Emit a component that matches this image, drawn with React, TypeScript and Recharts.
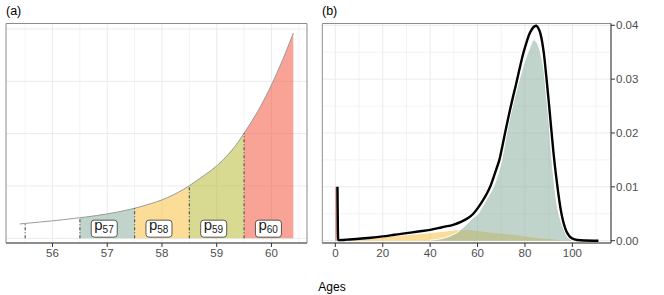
import React from 'react';
import {
  ComposedChart,
  Area,
  Line,
  XAxis,
  YAxis,
  CartesianGrid,
  ReferenceLine,
  ReferenceArea,
  Scatter,
} from 'recharts';

const FONT = '"Liberation Sans", Arial, Helvetica, sans-serif';

// ---------- Panel (a) ----------
const agesA = [55.4, 55.5, 55.6, 55.8, 56.0, 56.2, 56.4, 56.5, 56.6, 56.8, 57.0, 57.2, 57.4, 57.5, 57.6, 57.8, 58.0, 58.2, 58.4, 58.5, 58.6, 58.8, 59.0, 59.2, 59.4, 59.5, 59.6, 59.8, 60.0, 60.2, 60.4];
const curveA = [0.137, 0.142, 0.147, 0.157, 0.167, 0.178, 0.19, 0.197, 0.203, 0.217, 0.233, 0.252, 0.275, 0.287, 0.301, 0.331, 0.367, 0.413, 0.47, 0.503, 0.538, 0.612, 0.692, 0.795, 0.925, 1.004, 1.085, 1.26, 1.465, 1.7, 1.96];
const segStarts = [56.5, 57.5, 58.5, 59.5];
const segEnds = [57.5, 58.5, 59.5, 60.4];
const segLabels = ['57', '58', '59', '60'];
const segLabelX = [57, 58, 59, 60];
const segColors = ['#83A997', '#F7BB31', '#B1B525', '#F3472D'];
const dashX = [55.5, 56.5, 57.5, 58.5, 59.5];
const xTicksA = [56, 57, 58, 59, 60];
const xMinorA = [55.5, 56.5, 57.5, 58.5, 59.5, 60.5];
const yGridA = [0, 0.5, 1, 1.5, 2];
const X_DOMAIN_A: [number, number] = [55.15, 60.65];
const Y_DOMAIN_A: [number, number] = [-0.045, 2.0526];
const LABEL_Y = 0.092;

const curveDataA = agesA.map((x, i) => ({ x, y: curveA[i] }));
const segData = segStarts.map((s, k) =>
  curveDataA.filter((d) => d.x >= s - 1e-9 && d.x <= segEnds[k] + 1e-9)
);
const dashData = dashX.map((x) => ({ x, h: curveA[agesA.indexOf(x)] }));
const labelData = segLabelX.map((x, i) => ({ x, y: LABEL_Y, label: segLabels[i] }));

// ---------- Panel (b) ----------
const infantAge = [0, 0.6];
const infantVal = [0.01, 0.01];

const yellowAge = [0, 5, 10, 15, 20, 25, 30, 35, 40, 45, 50, 53, 56, 60, 65, 70, 75, 80, 85, 90, 95, 100];
const yellowVal = [0, 0.00008, 0.0002, 0.00038, 0.0006, 0.0008, 0.001, 0.0012, 0.0014, 0.0016, 0.0019, 0.002, 0.002, 0.0018, 0.0015, 0.0013, 0.0011, 0.0008, 0.0005, 0.0003, 0.0001, 0];

const greenAge = [40, 45, 48, 50, 52, 54, 56, 58, 60.3, 62, 64, 66.7, 68.5, 70.2, 72.3, 74.4, 76, 78, 80, 82, 83, 83.8, 84.6, 85.5, 86.5, 87.3, 88, 89, 90, 90.5, 91, 92, 93, 94, 95, 96, 97, 98, 99, 100];
const greenVal = [0.0001, 0.0004, 0.0008, 0.0012, 0.0017, 0.0025, 0.0033, 0.0042, 0.005, 0.0063, 0.0078, 0.01, 0.0122, 0.015, 0.02, 0.0243, 0.0272, 0.0305, 0.0335, 0.0358, 0.0369, 0.0373, 0.037, 0.0364, 0.035, 0.0335, 0.0317, 0.0272, 0.0228, 0.02, 0.017, 0.0122, 0.0083, 0.0056, 0.0039, 0.0026, 0.0015, 0.0007, 0.0003, 0];

const totalAge = [0.9, 1.2, 3, 5, 10, 15, 20, 25, 30, 35, 40, 45, 50, 53, 56, 58.2, 60, 62, 64, 65.3, 67, 68, 69.2, 70.4, 71.6, 72.6, 73.7, 75, 76, 77.5, 79.3, 80.5, 82, 83, 84, 84.8, 85.6, 86.5, 87.3, 88, 89, 90, 91, 92, 93, 94, 95, 96, 97, 98, 99, 100, 102, 105, 111];
const totalVal = [0.01, 0.0001, 0.00013, 0.0002, 0.00035, 0.00055, 0.0008, 0.0011, 0.0014, 0.0017, 0.002, 0.0025, 0.003, 0.0035, 0.0042, 0.005, 0.006, 0.0073, 0.0088, 0.01, 0.0121, 0.0134, 0.015, 0.0174, 0.02, 0.0221, 0.0243, 0.0268, 0.0286, 0.0315, 0.0348, 0.0366, 0.0385, 0.0393, 0.0398, 0.0399, 0.0395, 0.0385, 0.0368, 0.0347, 0.0305, 0.026, 0.0212, 0.0165, 0.0125, 0.009, 0.006, 0.0038, 0.0023, 0.0013, 0.0007, 0.0004, 0.00012, 0.00003, 0];

const xTicksB = [0, 20, 40, 60, 80, 100];
const xMinorB = [10, 30, 50, 70, 90, 110];
const yTicksB = [0, 0.01, 0.02, 0.03, 0.04];
const yMinorB = [0.005, 0.015, 0.025, 0.035];
const X_DOMAIN_B: [number, number] = [-5.5, 116.3];
const Y_DOMAIN_B: [number, number] = [-0.00043, 0.04033];

const toXY = (ages: number[], vals: number[]) => ages.map((x, i) => ({ x, v: vals[i] }));
const infantData = toXY(infantAge, infantVal);
const yellowData = toXY(yellowAge, yellowVal);
const greenData = toXY(greenAge, greenVal);
const totalData = toXY(totalAge, totalVal);

const tickStyle = { fill: '#4D4D4D', fontSize: 11.5, fontFamily: FONT };
const GRID = '#EBEBEB';
const BORDER = '#8C8C8C';
const AXIS = '#555555';

const LabelShape = (props: any) => {
  const { cx, cy, payload } = props;
  if (cx == null || cy == null) return null;
  const w = 26;
  const h = 17;
  const left = cx - 3 - w / 2;
  return (
    <g>
      <rect x={left} y={cy - h / 2} width={w} height={h} rx={3} ry={3} fill="#FFFFFF" stroke="#333333" strokeWidth={0.8} />
      <text x={left + 3} y={cy + 1.8} fontFamily={FONT} fill="#1A1A1A">
        <tspan fontSize={15}>p</tspan>
        <tspan fontSize={10} dy={2.8}>{payload.label}</tspan>
      </text>
    </g>
  );
};

const PanelA = () => (
  <ComposedChart width={320} height={270} margin={{ top: 23.5, right: 13, bottom: 7, left: 6 }}>
    <CartesianGrid verticalValues={xMinorA} horizontal={false} stroke={GRID} strokeWidth={0.6} />
    <CartesianGrid verticalValues={xTicksA} horizontalValues={yGridA} stroke={GRID} strokeWidth={1} />
    <XAxis
      type="number"
      dataKey="x"
      domain={X_DOMAIN_A}
      allowDataOverflow
      ticks={xTicksA}
      tickSize={4}
      tickMargin={2}
      height={20}
      axisLine={{ stroke: AXIS }}
      tickLine={{ stroke: '#333333' }}
      tick={tickStyle}
    />
    <YAxis type="number" domain={Y_DOMAIN_A} allowDataOverflow hide />
    {segData.map((d, k) => (
      <Area
        key={'seg' + k}
        data={d}
        dataKey="y"
        type="monotone"
        baseValue={0}
        fill={segColors[k]}
        fillOpacity={0.5}
        stroke="none"
        isAnimationActive={false}
      />
    ))}
    <Line data={curveDataA} dataKey="y" type="monotone" stroke="#9A9A9A" strokeWidth={1} dot={false} isAnimationActive={false} />
    {dashData.map((d) => (
      <ReferenceLine
        key={'dash' + d.x}
        segment={[{ x: d.x, y: 0 }, { x: d.x, y: d.h }]}
        stroke="#4D4D4D"
        strokeWidth={1.1}
        strokeDasharray="3 2 1 2"
        ifOverflow="visible"
      />
    ))}
    <Scatter data={labelData} dataKey="y" shape={LabelShape} isAnimationActive={false} />
    <ReferenceArea
      x1={X_DOMAIN_A[0]}
      x2={X_DOMAIN_A[1]}
      y1={Y_DOMAIN_A[0]}
      y2={Y_DOMAIN_A[1]}
      fill="none"
      fillOpacity={0}
      stroke={BORDER}
      strokeWidth={1}
      ifOverflow="visible"
    />
  </ComposedChart>
);

const PanelB = () => (
  <ComposedChart width={354} height={270} margin={{ top: 23.5, right: 5, bottom: 7, left: 12.3 }}>
    <CartesianGrid verticalValues={xMinorB} horizontalValues={yMinorB} stroke={GRID} strokeWidth={0.6} />
    <CartesianGrid verticalValues={xTicksB} horizontalValues={yTicksB} stroke={GRID} strokeWidth={1} />
    <XAxis
      type="number"
      dataKey="x"
      domain={X_DOMAIN_B}
      allowDataOverflow
      ticks={xTicksB}
      tickSize={4}
      tickMargin={2}
      height={20}
      axisLine={{ stroke: AXIS }}
      tickLine={{ stroke: '#333333' }}
      tick={tickStyle}
    />
    <YAxis
      type="number"
      orientation="right"
      width={48}
      domain={Y_DOMAIN_B}
      allowDataOverflow
      ticks={yTicksB}
      tickFormatter={(v: number) => v.toFixed(2)}
      tickSize={4}
      tickMargin={1}
      axisLine={{ stroke: AXIS }}
      tickLine={{ stroke: '#333333' }}
      tick={tickStyle}
    />
    <Area data={yellowData} dataKey="v" type="monotone" baseValue={0} fill="#F7BB31" fillOpacity={0.5} stroke="none" isAnimationActive={false} />
    <Area data={greenData} dataKey="v" type="monotone" baseValue={0} fill="#83A997" fillOpacity={0.5} stroke="#FFFFFF" strokeWidth={1} isAnimationActive={false} />
    <Area data={infantData} dataKey="v" type="linear" baseValue={0} fill="#EE7F72" fillOpacity={1} stroke="none" isAnimationActive={false} />
    <Line data={totalData} dataKey="v" type="monotone" stroke="#000000" strokeWidth={2.4} dot={false} isAnimationActive={false} />
    <ReferenceArea
      x1={X_DOMAIN_B[0]}
      x2={X_DOMAIN_B[1]}
      y1={Y_DOMAIN_B[0]}
      y2={Y_DOMAIN_B[1]}
      fill="none"
      fillOpacity={0}
      stroke={BORDER}
      strokeWidth={1}
      ifOverflow="visible"
    />
  </ComposedChart>
);

export default function App() {
  return (
    <div style={{ position: 'absolute', left: 0, top: 0, width: 664, height: 295, background: '#FFFFFF', overflow: 'hidden' }}>
      <div style={{ position: 'absolute', left: 0, top: 0 }}>
        <PanelA />
      </div>
      <div style={{ position: 'absolute', left: 310, top: 0 }}>
        <PanelB />
      </div>
      <svg width={664} height={295} style={{ position: 'absolute', left: 0, top: 0, pointerEvents: 'none' }}>
        <text x={6} y={14.5} fontSize={12.5} fontFamily={FONT} fill="#000000">(a)</text>
        <text x={322} y={14.5} fontSize={12.5} fontFamily={FONT} fill="#000000">(b)</text>
        <text x={332} y={291} fontSize={12} fontFamily={FONT} fill="#000000" textAnchor="middle">Ages</text>
      </svg>
    </div>
  );
}
